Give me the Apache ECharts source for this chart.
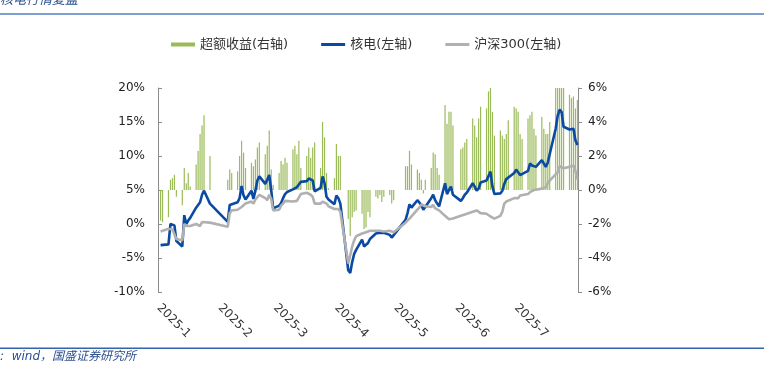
<!DOCTYPE html>
<html>
<head>
<meta charset="utf-8">
<script src="https://cdn.jsdelivr.net/npm/echarts@6/dist/echarts.min.js"></script>
<style>
  html, body { margin: 0; padding: 0; background: #fff; }
  #chart { width: 764px; height: 367px; }
</style>
</head>
<body>
<div id="chart"></div>
<script>
// 交易日
const tradeDays = [
  '2025-01-02','2025-01-03','2025-01-06','2025-01-07','2025-01-08','2025-01-09','2025-01-10','2025-01-13','2025-01-14','2025-01-15','2025-01-16','2025-01-17','2025-01-20','2025-01-21','2025-01-22','2025-01-23','2025-01-24','2025-01-27',
  '2025-02-05','2025-02-06','2025-02-07','2025-02-10','2025-02-11','2025-02-12','2025-02-13','2025-02-14','2025-02-17','2025-02-18','2025-02-19','2025-02-20','2025-02-21','2025-02-24','2025-02-25','2025-02-26','2025-02-27','2025-02-28',
  '2025-03-03','2025-03-04','2025-03-05','2025-03-06','2025-03-07','2025-03-10','2025-03-11','2025-03-12','2025-03-13','2025-03-14','2025-03-17','2025-03-18','2025-03-19','2025-03-20','2025-03-21','2025-03-24','2025-03-25','2025-03-26','2025-03-27','2025-03-28','2025-03-31',
  '2025-04-01','2025-04-02','2025-04-03','2025-04-07','2025-04-08','2025-04-09','2025-04-10','2025-04-11','2025-04-14','2025-04-15','2025-04-16','2025-04-17','2025-04-18','2025-04-21','2025-04-22','2025-04-23','2025-04-24','2025-04-25','2025-04-28','2025-04-29','2025-04-30',
  '2025-05-06','2025-05-07','2025-05-08','2025-05-09','2025-05-12','2025-05-13','2025-05-14','2025-05-15','2025-05-16','2025-05-19','2025-05-20','2025-05-21','2025-05-22','2025-05-23','2025-05-26','2025-05-27','2025-05-28','2025-05-29','2025-05-30',
  '2025-06-03','2025-06-04','2025-06-05','2025-06-06','2025-06-09','2025-06-10','2025-06-11','2025-06-12','2025-06-13','2025-06-16','2025-06-17','2025-06-18','2025-06-19','2025-06-20','2025-06-23','2025-06-24','2025-06-25','2025-06-26','2025-06-27','2025-06-30',
  '2025-07-01','2025-07-02','2025-07-03','2025-07-04','2025-07-07','2025-07-08','2025-07-09','2025-07-10','2025-07-11','2025-07-14','2025-07-15','2025-07-16','2025-07-17','2025-07-18','2025-07-21','2025-07-22','2025-07-23','2025-07-24','2025-07-25','2025-07-28','2025-07-29','2025-07-30','2025-07-31',
  '2025-08-01'
];

// 核电 累计涨跌幅 (%), 左轴
const nuclear = [
  -3.1,-3.1,-3.0,0.0,0.1,-0.2,-2.5,-3.3,1.3,0.0,0.5,0.9,2.4,2.8,3.2,4.3,4.9,3.0,
  0.3,2.8,3.0,3.2,3.8,5.6,4.2,3.6,4.9,3.7,4.9,6.4,7.0,5.9,6.5,7.2,5.0,2.3,
  2.7,3.1,3.8,4.4,4.7,5.1,5.3,5.4,5.5,6.2,6.3,6.7,6.5,6.4,4.8,5.3,7.0,6.0,4.0,3.6,2.9,
  4.2,3.8,3.0,-6.8,-7.2,-5.6,-4.4,-3.8,-2.3,-3.3,-3.2,-2.8,-2.2,-1.4,-1.3,-1.3,-1.4,-1.3,-1.6,-2.0,-2.2,
  0.6,1.6,2.9,2.4,3.5,3.3,2.8,2.1,2.5,3.8,4.3,3.5,3.0,2.6,6.0,4.4,5.0,5.5,4.3,
  3.4,3.8,4.3,4.6,6.0,5.5,4.9,5.2,6.1,6.4,6.4,7.7,5.5,4.4,4.5,4.9,5.9,6.6,6.8,7.5,
  8.0,7.8,7.2,7.3,7.8,8.9,8.6,8.4,8.4,9.4,9.4,8.4,9.0,10.3,14.0,15.9,16.8,16.5,14.3,13.9,13.8,14.0,12.3,
  11.6
];

// 沪深300 累计涨跌幅 (%), 左轴
const hs300 = [
  -1.1,-1.1,-0.7,-0.7,-0.8,-0.9,-2.2,-2.4,0.0,-0.3,-0.4,-0.3,0.0,-0.2,-0.3,0.3,0.5,0.2,
  -0.4,1.6,2.0,2.1,2.0,2.5,2.6,3.0,3.3,3.0,3.6,3.8,4.3,3.8,3.5,4.3,3.7,2.0,
  2.1,2.7,3.0,3.4,3.2,3.3,3.2,3.4,3.6,4.4,4.6,4.7,4.3,4.0,3.0,3.0,3.3,3.1,3.0,2.6,2.2,
  2.1,2.2,1.8,-5.8,-4.6,-3.3,-2.4,-1.8,-1.4,-1.2,-1.2,-1.1,-1.0,-1.0,-1.1,-1.0,-1.0,-1.1,-1.0,-1.1,-1.2,
  0.2,0.4,0.8,1.0,2.1,2.4,2.9,2.7,2.6,2.5,2.8,2.3,2.2,2.0,1.2,1.0,0.7,0.9,0.8,
  1.2,1.3,1.4,1.5,1.8,1.6,2.0,1.8,1.6,1.5,1.3,1.1,0.9,0.8,1.2,1.8,3.0,3.3,3.4,3.8,
  3.9,3.8,4.2,4.4,4.4,4.7,4.8,5.0,5.2,5.2,5.3,5.4,6.0,6.4,7.3,7.6,8.5,8.6,8.2,8.4,8.5,8.6,7.8,
  6.6
];

// 超额收益 (%), 右轴
const excess = [
  -1.8,-1.9,-1.6,0.6,0.7,0.9,-0.4,-0.9,1.3,0.4,1.0,0.2,1.5,2.3,3.3,3.8,4.4,2.0,
  0.6,1.2,1.0,1.1,2.0,2.9,2.2,1.3,1.6,1.4,1.8,2.5,2.8,2.1,2.6,3.5,1.2,0.3,
  1.0,1.7,1.5,1.9,1.6,2.4,2.6,2.1,2.9,1.3,2.0,2.5,1.9,2.5,2.8,1.3,4.0,3.1,1.0,0.1,0.7,
  2.7,2.0,2.0,-1.7,-2.7,-1.6,-1.3,-1.2,-1.4,-2.3,-2.2,-1.3,-1.6,-0.4,-0.5,-0.3,-0.7,-0.4,-0.3,-0.8,-0.6,
  1.4,1.4,2.3,1.5,1.2,1.0,0.6,-0.2,0.6,1.3,2.2,2.1,1.3,0.9,5.0,3.9,4.6,4.6,3.8,
  2.4,2.5,2.8,3.0,4.2,3.8,3.1,4.2,4.9,4.8,5.8,6.4,4.6,3.2,3.5,3.2,3.0,3.3,4.1,4.9,
  4.8,4.6,3.3,3.0,4.2,4.4,4.6,3.6,3.2,4.3,3.6,3.3,3.3,4.0,6.8,8.0,8.3,7.9,6.3,5.6,5.4,5.5,4.8,
  5.3
];

const seriesNames = ['超额收益(右轴)', '核电(左轴)', '沪深300(左轴)'];
const leftAxis = { min: -10, max: 20, interval: 5 };
const rightAxis = { min: -6, max: 6, interval: 2 };

const font = "'DejaVu Sans', 'Noto Sans CJK SC', sans-serif";
const cjkFont = "'Noto Sans CJK SC', sans-serif";

const pair = (vals) => tradeDays.map((d, i) => [d, vals[i]]);

const chart = echarts.init(document.getElementById('chart'));
const option = {
  animation: false,
  backgroundColor: '#fff',
  grid: {
    left: 158,
    right: 186,
    top: 88,
    bottom: 75,
    containLabel: false,
    outerBoundsMode: 'none'
  },
  legend: {
    top: 33,
    left: 166,
    itemWidth: 24,
    itemHeight: 5,
    itemGap: 33,
    symbolKeepAspect: true,
    textStyle: { fontSize: 13, color: '#333', fontFamily: font },
    data: [
      { name: seriesNames[0], icon: 'path://M0,0H24V4H0Z' },
      { name: seriesNames[1], icon: 'path://M0,0H24V3H0Z' },
      { name: seriesNames[2], icon: 'path://M0,0H24V3H0Z' }
    ]
  },
  xAxis: {
    type: 'time',
    min: '2025-01-01',
    max: '2025-08-01',
    splitNumber: 8,
    axisLine: { show: false },
    axisTick: { show: false },
    splitLine: { show: false },
    axisLabel: {
      rotate: -45,
      margin: 14,
      color: '#333',
      fontSize: 12,
      fontFamily: font,
      hideOverlap: false,
      formatter: function (value) {
        const d = new Date(value);
        if (d.getMonth() > 6 || d.getDate() !== 1) {
          return '';
        }
        return d.getFullYear() + '-' + (d.getMonth() + 1);
      }
    }
  },
  yAxis: [
    {
      type: 'value',
      position: 'left',
      min: leftAxis.min,
      max: leftAxis.max,
      interval: leftAxis.interval,
      axisLine: { show: true, lineStyle: { color: '#8c8c8c', width: 1 } },
      axisTick: { show: true, inside: true, length: 4, lineStyle: { color: '#8c8c8c' } },
      splitLine: { show: false },
      axisLabel: { formatter: '{value}%', color: '#222', fontSize: 12, fontFamily: font, margin: 13 }
    },
    {
      type: 'value',
      position: 'right',
      min: rightAxis.min,
      max: rightAxis.max,
      interval: rightAxis.interval,
      axisLine: { show: true, lineStyle: { color: '#8c8c8c', width: 1 } },
      axisTick: { show: true, inside: false, length: 4, lineStyle: { color: '#8c8c8c' } },
      splitLine: { show: false },
      axisLabel: { formatter: '{value}%', color: '#222', fontSize: 12, fontFamily: font, margin: 10 }
    }
  ],
  series: [
    {
      name: seriesNames[0],
      type: 'bar',
      yAxisIndex: 1,
      barWidth: 1.2,
      clip: true,
      itemStyle: { color: '#9bbb59' },
      data: pair(excess)
    },
    {
      name: seriesNames[1],
      type: 'line',
      yAxisIndex: 0,
      symbol: 'none',
      showSymbol: false,
      lineStyle: { color: '#0b4aa2', width: 2.6 },
      itemStyle: { color: '#0b4aa2' },
      data: pair(nuclear)
    },
    {
      name: seriesNames[2],
      type: 'line',
      yAxisIndex: 0,
      symbol: 'none',
      showSymbol: false,
      lineStyle: { color: '#b0b0b0', width: 2.6 },
      itemStyle: { color: '#b0b0b0' },
      data: pair(hs300)
    }
  ],
  graphic: [
    {
      type: 'text',
      x: 0,
      y: -1,
      style: { text: '核电行情复盘', fill: '#2b4f8f', font: 'italic 13px ' + cjkFont, verticalAlign: 'middle' }
    },
    {
      type: 'rect',
      shape: { x: 0, y: 13, width: 764, height: 2 },
      style: { fill: '#7d9fd2' }
    },
    {
      type: 'rect',
      shape: { x: 0, y: 347.5, width: 764, height: 1.5 },
      style: { fill: '#3463ad' }
    },
    {
      type: 'text',
      x: 0,
      y: 357,
      style: { text: ':  wind，国盛证券研究所', fill: '#2b4f8f', font: 'italic 12px ' + font, verticalAlign: 'middle' }
    }
  ]
};
chart.setOption(option);
</script>
</body>
</html>
